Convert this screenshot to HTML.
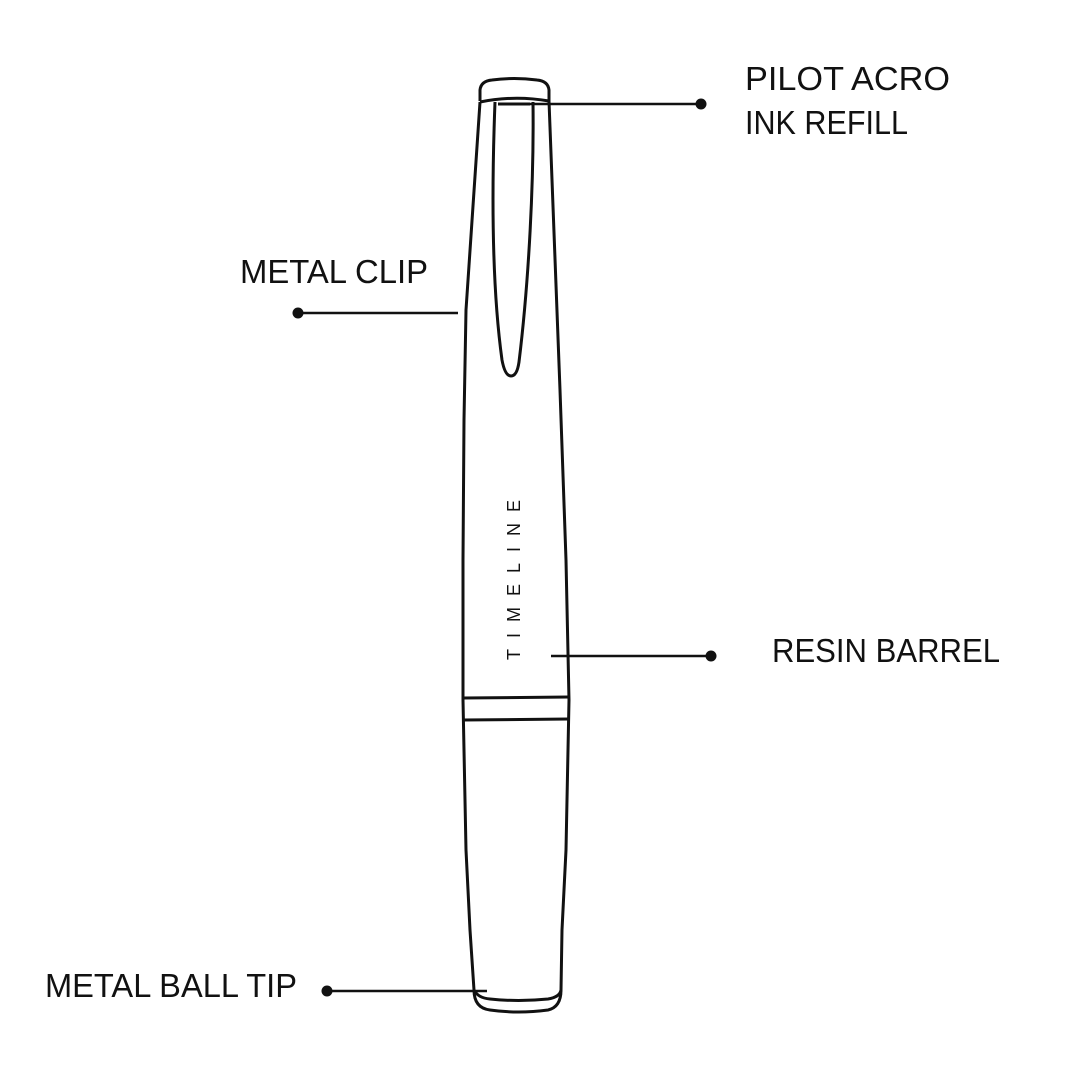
<!DOCTYPE html>
<html><head><meta charset="utf-8"><style>html,body{margin:0;padding:0;background:#fff}svg{display:block}</style></head>
<body>
<svg width="1080" height="1080" viewBox="0 0 1080 1080" xmlns="http://www.w3.org/2000/svg">
<rect width="1080" height="1080" fill="#fff"/>
<g fill="none" stroke="#111" stroke-width="3" stroke-linejoin="round">
<path d="M480 101 L480 90 Q481 81 492 80 Q514 77 537 80 Q548 81 549 90 L549 101"/>
<path d="M480 102 Q514 95 549 101"/>
<path d="M480 102 L466 310 L464 420 L463 560 L463 700 L466 850 L470 930 L474 990"/>
<path d="M549 101 L560 390 L566 560 L569 700 L566 850 L562 930 L561 990"/>
<path d="M463 698 L569 697"/>
<path d="M463 720 L569 719"/>
<path d="M474 990 Q478 998 490 999 Q518 1002 548 999 Q560 997 561 990"/>
<path d="M474 990 Q474 1008 490 1010 Q518 1014 548 1010 Q561 1007 561 990"/>
<path d="M495 102 C492 180 491 280 502 360 Q505 376 511 376 Q517 376 519 362 C529 280 534 180 533 102"/>
<path d="M498 104 L530 104"/>
</g>
<g stroke="#111" stroke-width="2.6">
<line x1="520" y1="104" x2="701" y2="104"/>
<line x1="298" y1="313" x2="458" y2="313"/>
<line x1="551" y1="656" x2="711" y2="656"/>
<line x1="327" y1="991" x2="487" y2="991"/>
</g>
<g fill="#111">
<circle cx="701" cy="104" r="5.5"/>
<circle cx="298" cy="313" r="5.5"/>
<circle cx="711" cy="656" r="5.5"/>
<circle cx="327" cy="991" r="5.5"/>
</g>
<g font-family="Liberation Sans, sans-serif" font-size="33" fill="#111">
<text x="745" y="90" textLength="205" lengthAdjust="spacingAndGlyphs">PILOT ACRO</text>
<text x="745" y="134" textLength="163" lengthAdjust="spacingAndGlyphs">INK REFILL</text>
<text x="240" y="283" textLength="188" lengthAdjust="spacingAndGlyphs">METAL CLIP</text>
<text x="772" y="662" textLength="228" lengthAdjust="spacingAndGlyphs">RESIN BARREL</text>
<text x="45" y="997" textLength="252" lengthAdjust="spacingAndGlyphs">METAL BALL TIP</text>
</g>
<text transform="translate(520,660) rotate(-90)" font-family="Liberation Sans, sans-serif" font-size="18" fill="#111" textLength="160" lengthAdjust="spacing">TIMELINE</text>
</svg>
</body></html>
